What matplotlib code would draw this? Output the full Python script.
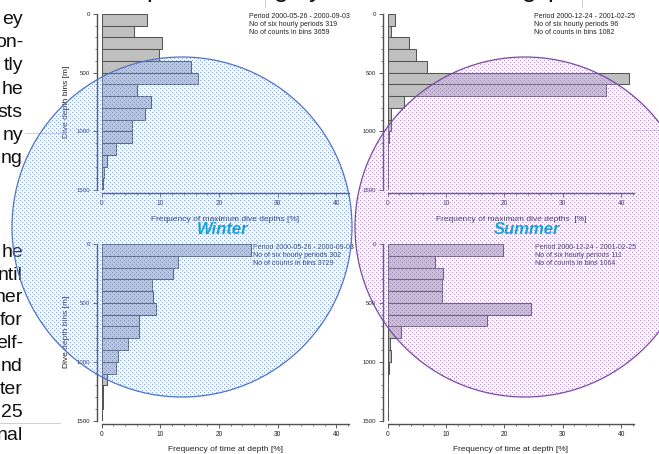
import numpy as np
import matplotlib
matplotlib.use('Agg')
import matplotlib.pyplot as plt
from matplotlib.patches import Circle
from matplotlib.ticker import MultipleLocator

plt.rcParams['font.family'] = ['Liberation Sans', 'DejaVu Sans']

W, H = 659, 454

# ---------------- data ----------------
depth_bins = [0, 100, 200, 300, 400, 500, 600, 700, 800, 900, 1000, 1100, 1200, 1300, 1400]
winter_max_depth = [7.67, 5.57, 10.3, 9.77, 15.2, 16.4, 6.08, 8.35, 7.33, 5.11, 5.11, 2.5, 0.85, 0.34, 0.2]
summer_max_depth = [1.26, 0.5, 3.6, 4.86, 6.69, 41.4, 37.5, 2.8, 0.5, 0.5, 0.2, 0.1, 0.1, 0.1, 0.05]
winter_time = [25.4, 13.0, 12.2, 8.58, 8.8, 9.2, 6.3, 6.4, 4.5, 2.7, 2.4, 0.85, 0.3, 0.2, 0.1]
summer_time = [19.7, 8.06, 9.43, 9.26, 9.26, 24.5, 17.1, 2.2, 0.4, 0.6, 0.2, 0.1, 0.1, 0.1, 0.05]

y_ticks = [0, 500, 1000, 1500]
x_ticks = [0, 10, 20, 30, 40]

winter_info_max = ["Period 2000-05-26 - 2000-09-03", "No of six hourly periods 319", "No of counts in bins 3659"]
summer_info_max = ["Period 2000-12-24 - 2001-02-25", "No of six hourly periods 96", "No of counts in bins 1082"]
winter_info_time = ["Period 2000-05-26 - 2000-09-03", "No of six hourly periods 302", "No of counts in bins 3729"]
summer_info_time = ["Period 2000-12-24 - 2001-02-25", "No of six hourly periods 111", "No of counts in bins 1064"]

xlabel_max = "Frequency of maximum dive depths [%]"
xlabel_max2 = "Frequency of maximum dive depths  [%]"
xlabel_time = "Frequency of time at depth [%]"
ylabel = "Dive depth bins [m]"

left_text_top = ["ey", "on-", "tly", "he", "sts", "ny", "ng"]
left_text_bottom = ["he", "ntil", "her", "for", "elf-", "nd", "ter", "25", "nal"]

# ---------------- figure ----------------
fig = plt.figure(figsize=(W / 100, H / 100), dpi=100)
fig.patch.set_facecolor('white')


def px_axes(x0, x1, y0, y1, **kw):
    return fig.add_axes([x0 / W, 1 - y1 / H, (x1 - x0) / W, (y1 - y0) / H], **kw)


def panel(ax, values, xlabel):
    ax.barh(depth_bins, values, height=100, align='edge', color='#c0c0c0',
            edgecolor='#555555', linewidth=0.75)
    ax.set_xlim(0, 42.2)
    ax.set_ylim(1500, 0)
    ax.patch.set_alpha(0)
    for s in ['top', 'right']:
        ax.spines[s].set_visible(False)
    ax.spines['left'].set_position(('outward', 3.4))
    ax.spines['bottom'].set_position(('outward', 2.2))
    for s in ['left', 'bottom']:
        ax.spines[s].set_color('#505050')
        ax.spines[s].set_linewidth(1.0)
    ax.set_yticks(y_ticks)
    ax.set_xticks(x_ticks)
    ax.yaxis.set_minor_locator(MultipleLocator(100))
    ax.xaxis.set_minor_locator(MultipleLocator(2))
    ax.tick_params(which='major', direction='out', length=3, width=0.6, color='#404040')
    ax.tick_params(which='minor', direction='out', length=1.6, width=0.5, color='#404040')
    ax.tick_params(axis='y', labelsize=4.4, pad=2.2, labelcolor='#222222')
    ax.tick_params(axis='x', labelsize=4.8, pad=2.2, labelcolor='#222222')
    ax.set_xlabel(xlabel, fontsize=6, color='#222222', labelpad=6)


ax1 = px_axes(101.7, 349.2, 14, 190)
panel(ax1, winter_max_depth, xlabel_max)
ax2 = px_axes(387.7, 633.9, 14, 190)
panel(ax2, summer_max_depth, xlabel_max2)
ax3 = px_axes(101.7, 349.2, 244, 420.7)
panel(ax3, winter_time, xlabel_time)
ax4 = px_axes(387.7, 633.9, 244, 420.7)
panel(ax4, summer_time, xlabel_time)

# y labels
fig.text(66 / W, 1 - 102 / H, ylabel, rotation=90, fontsize=6, ha='center', va='center', color='#222222')
fig.text(66 / W, 1 - 331.5 / H, ylabel, rotation=90, fontsize=6, ha='center', va='center', color='#222222')


def info(x, y, lines):
    for i, t in enumerate(lines):
        fig.text(x / W, 1 - (y + i * 7.7) / H, t, fontsize=5, ha='left', va='center', color='#222222')


info(249, 16.7, winter_info_max)
info(534.3, 16.7, summer_info_max)
info(253.3, 247.7, winter_info_time)
info(535, 247.7, summer_info_time)

# left-side document text (cut off)
for i, t in enumerate(left_text_top):
    fig.text(23 / W, 1 - (24 + 23.2 * i) / H, t, fontsize=14, ha='right', va='baseline', color='#111111')
for i, t in enumerate(left_text_bottom):
    fig.text(23 / W, 1 - (256.7 + 22.9 * i) / H, t, fontsize=14, ha='right', va='baseline', color='#111111')

# cut-off title descenders at the top
for ch, x in [("p", 146), ("g", 281), ("y", 316), ("g", 529), ("p", 547)]:
    fig.text(x / W, 1 + 3.5 / H, ch, fontsize=19, ha='left' if ch == 'p' else 'center',
             va='baseline', color='#111111')

# overlay axes for circles and decoration
axo = fig.add_axes([0, 0, 1, 1], zorder=10)
axo.set_xlim(0, W)
axo.set_ylim(H, 0)
axo.axis('off')
axo.patch.set_alpha(0)

yy, xx = np.mgrid[0:H, 0:W]
dot = ((xx % 4 == 0) & (yy % 4 == 0)) | ((xx % 4 == 2) & (yy % 4 == 2))
near = (((xx + 1) % 4 < 3) & ((yy + 1) % 4 < 3) & ~dot) & False


def texture(dot_rgb, bg_rgb, a_dot, a_bg):
    arr = np.zeros((H, W, 4))
    arr[dot, :3] = dot_rgb
    arr[~dot, :3] = bg_rgb
    arr[..., 3] = np.where(dot, a_dot, a_bg)
    return arr


circles = [
    ((182, 227), 170, '#4f74c2', (0.42, 0.56, 0.84), (0.78, 0.84, 0.95)),
    ((525, 227), 170, '#7b4aa0', (0.62, 0.48, 0.78), (0.88, 0.82, 0.94)),
]
for (cx, cy), r, ec, dc, bc in circles:
    im = axo.imshow(texture(dc, bc, 0.8, 0.18), extent=(0, W, H, 0), interpolation='nearest', zorder=1)
    clip = Circle((cx, cy), r, transform=axo.transData, facecolor='none', edgecolor='none')
    axo.add_patch(clip)
    im.set_clip_path(clip)
    axo.add_patch(Circle((cx, cy), r, facecolor='none', edgecolor=ec, linewidth=0.9, zorder=3))

axo.set_xlim(0, W)
axo.set_ylim(H, 0)

axo.text(222.5, 229, "Winter", fontsize=12, fontweight='bold', fontstyle='italic',
         color='#17a2d6', ha='center', va='center', zorder=5)
axo.text(527.5, 229, "Summer", fontsize=12, fontweight='bold', fontstyle='italic',
         color='#17a2d6', ha='center', va='center', zorder=5)

# faint slide lines
for (x0, x1, y0, y1) in [(25, 65, 133, 133), (633, 659, 130, 130), (0, 60, 423, 423),
                         (265, 265, 0, 7), (582, 582, 0, 7)]:
    axo.plot([x0, x1], [y0, y1], color='#c8c8c8', lw=0.6, zorder=0)

fig.savefig('out.png', dpi=100)
